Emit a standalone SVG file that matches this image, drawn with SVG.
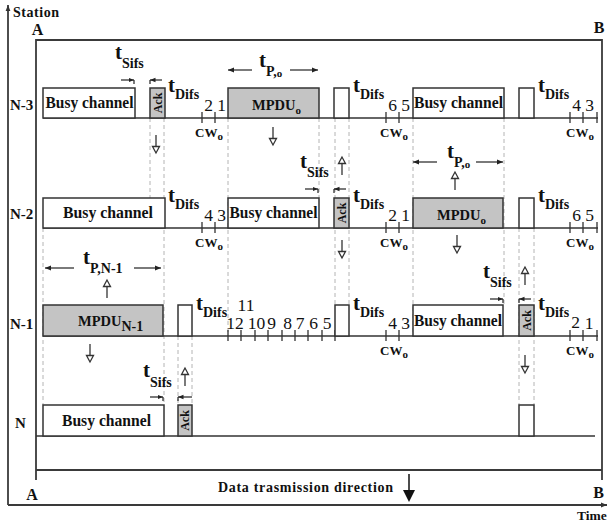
<svg xmlns="http://www.w3.org/2000/svg" width="608" height="526" viewBox="0 0 608 526">
<style>
.fr{stroke:#3a3a3a;stroke-width:1.8;fill:none}
.ln{stroke:#333;stroke-width:1.6;fill:none}
.box{fill:#fff;stroke:#333;stroke-width:1.5}
.gbox{fill:#c4c4c4;stroke:#333;stroke-width:1.5}
.dash{stroke:#b4b4b4;stroke-width:1;stroke-dasharray:4 3;fill:none}
.tk{stroke:#333;stroke-width:1.3}
.sa{stroke:#222;stroke-width:1.2;fill:none}
.oa{stroke:#333;stroke-width:1.3;fill:#fff}
text{font-family:"Liberation Serif","Times New Roman",serif;fill:#111}
.b{font-weight:bold}
.lbl{font-size:16px;font-weight:bold}
.mp{font-size:14.5px;font-weight:bold}
.t{font-size:21px;font-weight:bold}
.sub{font-size:14px;font-weight:bold}
.ssub{font-size:11px;font-weight:bold}
.num{font-size:17.5px}
.cw{font-size:13px;font-weight:bold}
.ack{font-size:12px;font-weight:bold}
.row{font-size:15px;font-weight:bold}
</style>
<defs>
<marker id="ah" viewBox="0 0 10 10" refX="10" refY="5" markerWidth="6" markerHeight="6" orient="auto" markerUnits="userSpaceOnUse"><path d="M0,1 L10,5 L0,9 Z" fill="#222"/></marker>
<marker id="ahs" viewBox="0 0 10 10" refX="10" refY="5" markerWidth="5.5" markerHeight="5.5" orient="auto" markerUnits="userSpaceOnUse"><path d="M0,1 L10,5 L0,9 Z" fill="#222"/></marker>
<marker id="ax" viewBox="0 0 10 10" refX="10" refY="5" markerWidth="6" markerHeight="6" orient="auto" markerUnits="userSpaceOnUse"><path d="M0,1 L10,5 L0,9 Z" fill="#333"/></marker>
<g id="oaUp" class="oa"><line x1="0" y1="6" x2="0" y2="18"/><path d="M0,0 L-3.5,6.5 L3.5,6.5 Z"/></g>
<g id="oaDn" class="oa"><line x1="0" y1="0" x2="0" y2="12"/><path d="M0,18 L-3.5,11.5 L3.5,11.5 Z"/></g>
</defs>

<g id="frame">
<path class="fr" d="M8,505 V5" marker-end="url(#ax)"/>
<path class="fr" d="M8,505 H607" marker-end="url(#ax)"/>
<path class="fr" d="M36,480 V40 H602 V480"/>
<path class="fr" d="M36,470 H602"/>
<text x="13" y="17" font-size="14" class="b" textLength="46">Station</text>
<text x="37.5" y="35" font-size="16" class="b" text-anchor="middle">A</text>
<text x="599" y="33" font-size="16" class="b" text-anchor="middle">B</text>
<text x="32" y="500" font-size="16" class="b" text-anchor="middle">A</text>
<text x="598.5" y="498" font-size="16" class="b" text-anchor="middle">B</text>
<text x="577" y="520" font-size="13.5" class="b">Time</text>
<text x="218" y="492" font-size="14" class="b" textLength="175">Data trasmission direction</text>
<line x1="409" y1="474" x2="409" y2="492" stroke="#111" stroke-width="1.5"/>
<path d="M403,490 L415,490 L409,502 Z" fill="#111"/>
</g>

<g id="connectors">
<path class="dash" d="M43,228 V405 M150,118 V198 M164,118 V405 M178,336 V405 M192,336 V405 M228,118 V336 M319,118 V198 M335,118 V305 M349,118 V305 M413,118 V336 M504,118 V305 M519,228 V405 M534,228 V405"/>
</g>

<g id="row-N3">
<text x="10" y="110" class="row">N-3</text>
<path class="ln" d="M43,118 H598"/>
<path class="tk" d="M202,112 V123 M215,112 V123 M386,112 V123 M399,112 V123 M570,112 V123 M583,112 V123 M597,112 V123"/>
<rect class="box" x="43" y="88" width="92" height="30"/>
<text x="89.5" y="108" class="lbl" text-anchor="middle" textLength="88" lengthAdjust="spacingAndGlyphs">Busy channel</text>
<rect class="gbox" x="150" y="88" width="15" height="30"/>
<text transform="translate(161.5,103) rotate(-90)" class="ack" text-anchor="middle">Ack</text>
<rect class="gbox" x="228" y="88" width="91" height="30"/>
<text x="252" y="110" class="mp">MPDU<tspan class="ssub" dy="4">o</tspan></text>
<rect class="box" x="334" y="88" width="15" height="30"/>
<rect class="box" x="413" y="88" width="91" height="30"/>
<text x="458.5" y="108" class="lbl" text-anchor="middle" textLength="89" lengthAdjust="spacingAndGlyphs">Busy channel</text>
<rect class="box" x="519" y="88" width="15" height="30"/>
<text x="115" y="59"><tspan class="t">t</tspan><tspan class="sub" dy="9">Sifs</tspan></text>
<path class="sa" d="M121,80 H134" marker-end="url(#ahs)"/><path class="sa" d="M134,80 V84"/>
<path class="sa" d="M162,80 H150" marker-end="url(#ahs)"/><path class="sa" d="M150,80 V84"/>
<text x="259" y="67"><tspan class="t">t</tspan><tspan class="sub" dy="9">P,</tspan><tspan class="ssub" dy="1">o</tspan></text>
<path class="sa" d="M252,70 H228" marker-end="url(#ah)"/>
<path class="sa" d="M290,70 H318" marker-end="url(#ah)"/>
<text x="168" y="92"><tspan class="t">t</tspan><tspan class="sub" dy="7">Difs</tspan></text>
<text x="353" y="92"><tspan class="t">t</tspan><tspan class="sub" dy="7">Difs</tspan></text>
<text x="538" y="92"><tspan class="t">t</tspan><tspan class="sub" dy="7">Difs</tspan></text>
<g text-anchor="middle">
<text x="208.5" y="111" class="num">2</text><text x="221.5" y="111" class="num">1</text>
<text x="392.5" y="111" class="num">6</text><text x="405.5" y="111" class="num">5</text>
<text x="576.5" y="111" class="num">4</text><text x="589.5" y="111" class="num">3</text>
</g>
<text x="209" y="137" class="cw" text-anchor="middle">CW<tspan class="ssub" dy="3">o</tspan></text>
<text x="394" y="137" class="cw" text-anchor="middle">CW<tspan class="ssub" dy="3">o</tspan></text>
<text x="580" y="137" class="cw" text-anchor="middle">CW<tspan class="ssub" dy="3">o</tspan></text>
<use href="#oaDn" x="156" y="135"/>
<use href="#oaDn" x="273" y="127"/>
</g>

<g id="row-N2">
<text x="10" y="219" class="row">N-2</text>
<path class="ln" d="M43,228 H598"/>
<path class="tk" d="M202,222 V233 M215,222 V233 M386,222 V233 M399,222 V233 M570,222 V233 M583,222 V233 M597,222 V233"/>
<rect class="box" x="43" y="198" width="122" height="30"/>
<text x="108" y="218" class="lbl" text-anchor="middle" textLength="90" lengthAdjust="spacingAndGlyphs">Busy channel</text>
<rect class="box" x="228" y="198" width="91" height="30"/>
<text x="273.5" y="218" class="lbl" text-anchor="middle" textLength="88" lengthAdjust="spacingAndGlyphs">Busy channel</text>
<rect class="gbox" x="334" y="198" width="15" height="30"/>
<text transform="translate(345.5,213) rotate(-90)" class="ack" text-anchor="middle">Ack</text>
<rect class="gbox" x="413" y="198" width="90" height="30"/>
<text x="437" y="220" class="mp">MPDU<tspan class="ssub" dy="4">o</tspan></text>
<rect class="box" x="519" y="198" width="15" height="30"/>
<text x="300" y="168"><tspan class="t">t</tspan><tspan class="sub" dy="9">Sifs</tspan></text>
<path class="sa" d="M305,189 H318" marker-end="url(#ahs)"/><path class="sa" d="M318,189 V193"/>
<path class="sa" d="M346,189 H334" marker-end="url(#ahs)"/><path class="sa" d="M334,189 V193"/>
<text x="447" y="158"><tspan class="t">t</tspan><tspan class="sub" dy="9">P,</tspan><tspan class="ssub" dy="1">o</tspan></text>
<path class="sa" d="M437,162 H413" marker-end="url(#ah)"/>
<path class="sa" d="M476,162 H503" marker-end="url(#ah)"/>
<text x="168" y="202"><tspan class="t">t</tspan><tspan class="sub" dy="7">Difs</tspan></text>
<text x="353" y="202"><tspan class="t">t</tspan><tspan class="sub" dy="7">Difs</tspan></text>
<text x="538" y="202"><tspan class="t">t</tspan><tspan class="sub" dy="7">Difs</tspan></text>
<g text-anchor="middle">
<text x="208.5" y="221" class="num">4</text><text x="221.5" y="221" class="num">3</text>
<text x="392.5" y="221" class="num">2</text><text x="405.5" y="221" class="num">1</text>
<text x="576.5" y="221" class="num">6</text><text x="589.5" y="221" class="num">5</text>
</g>
<text x="209" y="247" class="cw" text-anchor="middle">CW<tspan class="ssub" dy="3">o</tspan></text>
<text x="394" y="247" class="cw" text-anchor="middle">CW<tspan class="ssub" dy="3">o</tspan></text>
<text x="580" y="247" class="cw" text-anchor="middle">CW<tspan class="ssub" dy="3">o</tspan></text>
<use href="#oaUp" x="342" y="157"/>
<use href="#oaDn" x="342" y="240"/>
<use href="#oaUp" x="455" y="172"/>
<use href="#oaDn" x="457" y="235"/>
</g>

<g id="row-N1">
<text x="10" y="329" class="row">N-1</text>
<path class="ln" d="M43,336 H598"/>
<path class="tk" d="M228,330 V341 M241,330 V341 M255,330 V341 M268,330 V341 M282,330 V341 M295,330 V341 M308,330 V341 M322,330 V341 M335,330 V341 M386,330 V341 M399,330 V341 M570,330 V341 M583,330 V341 M597,330 V341"/>
<rect class="gbox" x="43" y="305" width="120" height="31"/>
<text x="78" y="326" class="mp">MPDU<tspan class="sub" dy="5" font-size="13.5">N-1</tspan></text>
<rect class="box" x="178" y="305" width="14" height="31"/>
<rect class="box" x="335" y="305" width="14" height="31"/>
<rect class="box" x="413" y="305" width="90" height="31"/>
<text x="458" y="326" class="lbl" text-anchor="middle" textLength="88" lengthAdjust="spacingAndGlyphs">Busy channel</text>
<rect class="gbox" x="519" y="305" width="15" height="31"/>
<text transform="translate(530.5,320.5) rotate(-90)" class="ack" text-anchor="middle">Ack</text>
<text x="83" y="264"><tspan class="t">t</tspan><tspan class="sub" dy="9">P,N-1</tspan></text>
<path class="sa" d="M74,268 H45" marker-end="url(#ah)"/>
<path class="sa" d="M134,268 H161" marker-end="url(#ah)"/>
<text x="483" y="278"><tspan class="t">t</tspan><tspan class="sub" dy="9">Sifs</tspan></text>
<path class="sa" d="M490,299 H503" marker-end="url(#ahs)"/><path class="sa" d="M503,299 V303"/>
<path class="sa" d="M531,299 H519" marker-end="url(#ahs)"/><path class="sa" d="M519,299 V303"/>
<text x="196" y="310"><tspan class="t">t</tspan><tspan class="sub" dy="7">Difs</tspan></text>
<text x="353" y="310"><tspan class="t">t</tspan><tspan class="sub" dy="7">Difs</tspan></text>
<text x="538" y="310"><tspan class="t">t</tspan><tspan class="sub" dy="7">Difs</tspan></text>
<g text-anchor="middle">
<text x="246" y="311" class="num">11</text>
<text x="235" y="329" class="num">12</text><text x="256.5" y="329" class="num">10</text>
<text x="271.5" y="329" class="num">9</text><text x="287.5" y="329" class="num">8</text>
<text x="300" y="329" class="num">7</text><text x="313.5" y="329" class="num">6</text>
<text x="327" y="329" class="num">5</text>
<text x="392.5" y="329" class="num">4</text><text x="405.5" y="329" class="num">3</text>
<text x="575.5" y="328" class="num">2</text><text x="589" y="329" class="num">1</text>
</g>
<text x="394" y="355" class="cw" text-anchor="middle">CW<tspan class="ssub" dy="3">o</tspan></text>
<text x="580" y="355" class="cw" text-anchor="middle">CW<tspan class="ssub" dy="3">o</tspan></text>
<use href="#oaUp" x="107" y="280"/>
<use href="#oaDn" x="90" y="344"/>
<use href="#oaUp" x="525" y="267"/>
<use href="#oaDn" x="525" y="355"/>
</g>

<g id="row-N">
<text x="15" y="428" class="row">N</text>
<path class="ln" d="M36,436 H595"/>
<rect class="box" x="43" y="405" width="121" height="31"/>
<text x="106.5" y="426" class="lbl" text-anchor="middle" textLength="89" lengthAdjust="spacingAndGlyphs">Busy channel</text>
<rect class="gbox" x="178" y="405" width="14" height="31"/>
<text transform="translate(189,420.5) rotate(-90)" class="ack" text-anchor="middle">Ack</text>
<rect class="box" x="519" y="405" width="15" height="31"/>
<text x="143" y="377"><tspan class="t">t</tspan><tspan class="sub" dy="10">Sifs</tspan></text>
<path class="sa" d="M150,397 H163" marker-end="url(#ahs)"/><path class="sa" d="M163,397 V401"/>
<path class="sa" d="M192,397 H178" marker-end="url(#ahs)"/><path class="sa" d="M178,397 V401"/>
<use href="#oaUp" x="185" y="368"/>
</g>
</svg>
